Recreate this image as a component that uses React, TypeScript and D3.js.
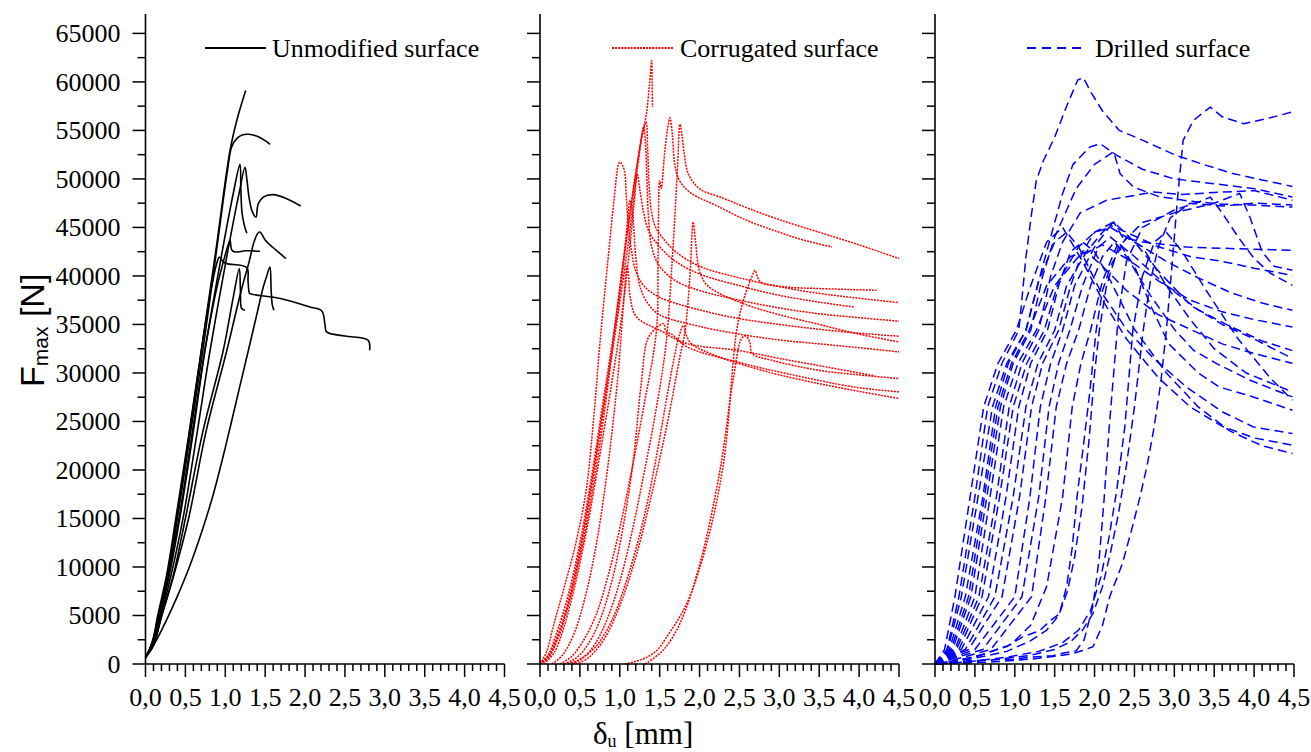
import React from 'react';
import * as d3 from 'd3';

type Pt = [number, number];

// ---------- tick values / labels ----------
const xMajorTicks = [0, 0.5, 1, 1.5, 2, 2.5, 3, 3.5, 4, 4.5];
const xTickLabels = ['0,0', '0,5', '1,0', '1,5', '2,0', '2,5', '3,0', '3,5', '4,0', '4,5'];
const xMinorTicks = [0.1, 0.2, 0.3, 0.4, 0.6, 0.7, 0.8, 0.9, 1.1, 1.2, 1.3, 1.4, 1.6, 1.7, 1.8, 1.9, 2.1, 2.2, 2.3, 2.4, 2.6, 2.7, 2.8, 2.9, 3.1, 3.2, 3.3, 3.4, 3.6, 3.7, 3.8, 3.9, 4.1, 4.2, 4.3, 4.4];
const yMajorTicks = [0, 5000, 10000, 15000, 20000, 25000, 30000, 35000, 40000, 45000, 50000, 55000, 60000, 65000];
const yMinorTicks = [2500, 7500, 12500, 17500, 22500, 27500, 32500, 37500, 42500, 47500, 52500, 57500, 62500];

const legendLabels = ['Unmodified surface', 'Corrugated surface', 'Drilled surface'];

// ---------- Unmodified surface (black) ----------
const u1: Pt[] = [[0,600],[0.08,2200],[0.16,4870],[0.28,9500],[0.39,15000],[0.55,23800],[0.70,32340],[0.88,42500],[1.06,52940],[1.15,56200],[1.256,59120]];
const u2: Pt[] = [[0,600],[0.08,2100],[0.17,4870],[0.29,9500],[0.40,15000],[0.56,23600],[0.72,32340],[0.88,42000],[1.03,51000],[1.08,53300],[1.15,54200],[1.22,54550],[1.29,54600],[1.40,54400],[1.50,53950],[1.56,53560]];
const u3: Pt[] = [[0,700],[0.09,2100],[0.18,4870],[0.30,9200],[0.43,15000],[0.60,24000],[0.745,32340],[0.95,42000],[1.10,48500],[1.184,51500],[1.195,49000],[1.21,46500],[1.24,45200],[1.27,44400]];
const u4: Pt[] = [[0,700],[0.10,2000],[0.19,4870],[0.33,9500],[0.47,15000],[0.64,23500],[0.81,32340],[1.03,42500],[1.18,48800],[1.247,51200],[1.27,50000],[1.30,48000],[1.34,46600],[1.385,46070],[1.40,46900],[1.414,47450],[1.476,48130],[1.60,48380],[1.77,47960],[1.945,47210]];
const u5: Pt[] = [[0,700],[0.10,1900],[0.20,4870],[0.36,9300],[0.54,15000],[0.76,24000],[1.02,32340],[1.20,38500],[1.30,41500],[1.36,43500],[1.41,44430],[1.435,44530],[1.50,43700],[1.56,43200],[1.64,42640],[1.76,41790]];
const u6: Pt[] = [[0,700],[0.09,2100],[0.17,4870],[0.29,9400],[0.42,15000],[0.58,23500],[0.745,32340],[0.90,39000],[1.0,42200],[1.04,43300],[1.06,43670],[1.08,42700],[1.12,42470],[1.25,42600],[1.35,42580],[1.435,42540]];
const u7: Pt[] = [[0,700],[0.08,2000],[0.15,4870],[0.27,9400],[0.38,15000],[0.54,23500],[0.70,32340],[0.82,38500],[0.90,41500],[0.925,41950],[0.975,41440],[1.02,41270],[1.27,40860],[1.285,39500],[1.30,38290],[1.31,38180],[1.69,37670],[2.06,36800],[2.21,36390],[2.25,35000],[2.27,34230],[2.5,33800],[2.79,33370],[2.81,32340]];
const u8: Pt[] = [[0,700],[0.10,2000],[0.20,4870],[0.35,9200],[0.50,15000],[0.72,24000],[0.975,32340],[1.10,37800],[1.176,40760],[1.19,38500],[1.205,36640],[1.247,36460]];
const u9: Pt[] = [[0,700],[0.12,2200],[0.25,4300],[0.40,7000],[0.55,10000],[0.70,13500],[0.85,17500],[1.0,22300],[1.15,27500],[1.29,32340],[1.40,36200],[1.476,38860],[1.52,40000],[1.56,40920],[1.575,38500],[1.59,37000],[1.61,36460]];
const unmodifiedCurves = [u1, u2, u3, u4, u5, u6, u7, u8, u9];

// ---------- Corrugated surface (red) ----------
const r1: Pt[] = [[0,0],[0.08,1200],[0.17,4000],[0.30,7800],[0.45,12500],[0.58,18000],[0.68,26000],[0.75,33000],[0.85,41500],[0.93,48000],[0.98,51400],[1.0,51740],[1.04,51300],[1.065,50500],[1.08,48500],[1.10,46000],[1.14,43000],[1.20,40500],[1.30,39000],[1.50,37800],[2.0,36500],[2.5,35600],[3.0,35000],[3.5,34500],[4.0,34100],[4.5,33780]];
const r2: Pt[] = [[0,0],[0.10,700],[0.20,2500],[0.35,6000],[0.50,11000],[0.65,17500],[0.80,25500],[0.92,33500],[1.05,42000],[1.18,49500],[1.28,54500],[1.33,56500],[1.37,59500],[1.40,62200],[1.405,60000],[1.41,57400]];
const r3: Pt[] = [[0,0],[0.10,900],[0.20,3000],[0.35,7000],[0.50,12500],[0.65,19500],[0.80,27500],[0.94,35000],[1.08,43500],[1.20,50500],[1.28,54500],[1.33,55860],[1.35,53000],[1.37,49000],[1.40,46500],[1.45,45000],[1.55,43800],[1.70,42500],[2.0,41000],[2.5,39800],[3.0,38900],[3.5,38200],[4.0,37700],[4.5,37250]];
const r4: Pt[] = [[0.25,0],[0.40,800],[0.55,2500],[0.70,5000],[0.85,9000],[1.0,14000],[1.15,20000],[1.30,26500],[1.46,34400],[1.48,42000],[1.50,49850],[1.52,49000],[1.56,52500],[1.60,55200],[1.63,56300],[1.66,54500],[1.69,51500],[1.75,49800],[1.90,48500],[2.2,47300],[2.6,45700],[3.0,44500],[3.3,43700],[3.66,42990]];
const r5: Pt[] = [[0.40,0],[0.55,700],[0.70,2200],[0.85,4800],[1.0,8500],[1.15,13500],[1.30,19500],[1.45,26000],[1.58,33000],[1.66,42000],[1.72,50500],[1.755,55620],[1.78,54500],[1.81,52500],[1.86,50500],[2.0,49000],[2.3,48000],[2.6,47000],[3.0,45800],[3.5,44500],[4.0,43200],[4.5,41790]];
const r6: Pt[] = [[0.45,0],[0.60,600],[0.80,2500],[1.0,6000],[1.2,11000],[1.4,17500],[1.6,25000],[1.75,31500],[1.82,34400],[1.88,40000],[1.92,45560],[1.95,43500],[2.0,40500],[2.1,39000],[2.5,37300],[3.0,36000],[3.5,35000],[4.0,34000],[4.5,33200]];
const r7: Pt[] = [[1.065,0],[1.29,515],[1.46,1370],[1.59,2810],[1.84,6250],[2.09,12430],[2.30,20670],[2.465,34400],[2.55,37500],[2.65,39800],[2.695,40580],[2.73,39800],[2.78,39300],[3.09,38860],[3.5,38700],[3.9,38600],[4.22,38520]];
const r8: Pt[] = [[1.32,0],[1.546,1440],[1.755,4190],[2.005,10370],[2.256,19980],[2.42,29250],[2.53,33600],[2.58,33800],[2.63,33200],[2.66,32000],[2.91,31300],[3.49,30280],[4.0,29800],[4.5,29430]];
const r9: Pt[] = [[0.30,0],[0.45,600],[0.60,2000],[0.75,4500],[0.90,8500],[1.05,14500],[1.17,21000],[1.27,29000],[1.35,33500],[1.45,34600],[1.52,35000],[1.55,35090],[1.58,34300],[1.65,34000],[1.84,32700],[2.47,31140],[3.09,29940],[3.93,28560],[4.5,28050]];
const r10: Pt[] = [[0.35,0],[0.50,500],[0.70,1800],[0.90,4500],[1.10,9000],[1.30,15000],[1.45,21000],[1.58,27000],[1.68,31500],[1.75,34000],[1.80,34900],[1.83,34000],[1.90,33000],[2.2,31800],[2.6,30700],[3.0,29800],[3.5,28900],[4.0,28100],[4.5,27370]];
const r11: Pt[] = [[0,0],[0.12,1000],[0.25,3500],[0.40,8000],[0.55,14000],[0.70,21500],[0.85,29500],[0.96,35500],[1.05,41500],[1.10,46000],[1.13,47800],[1.16,46500],[1.20,42000],[1.25,39000],[1.35,37200],[1.5,36000],[2.0,34800],[2.5,34000],[3.0,33400],[3.5,33000],[4.0,32600],[4.5,32170]];
const r12: Pt[] = [[0.05,0],[0.18,1200],[0.30,3800],[0.45,8500],[0.60,14500],[0.75,21500],[0.90,29000],[1.0,34400],[1.10,41000],[1.18,47500],[1.22,50500],[1.25,49000],[1.30,46500],[1.37,44500],[1.5,43000],[1.7,41500],[2.0,40200],[2.5,39000],[3.0,38000],[3.5,37300],[3.93,36800]];
const r13: Pt[] = [[0,0],[0.10,600],[0.22,2500],[0.36,6200],[0.50,11500],[0.65,18500],[0.80,26500],[0.95,34500],[1.10,43000],[1.22,51000],[1.30,55400],[1.32,54000],[1.34,50000],[1.36,46000],[1.40,43000],[1.5,41000],[1.7,39500],[2.0,38500],[2.5,37500],[3.0,36700],[3.5,36100],[4.0,35700],[4.5,35330]];
const r14: Pt[] = [[0.15,0],[0.28,900],[0.42,3000],[0.57,7000],[0.72,13000],[0.86,21000],[0.98,30000],[1.05,37500],[1.09,41000],[1.11,40000],[1.13,37830],[1.21,35770],[1.5,34400],[1.84,33030],[2.47,32340],[3.0,31500],[3.6,30600],[4.2,29700]];
const corrugatedCurves = [r1, r2, r3, r4, r5, r6, r7, r8, r9, r10, r11, r12, r13, r14];

// ---------- Drilled surface (blue) ----------
const b1: Pt[] = [[0,0],[0.15,1500],[0.30,6930],[0.50,17230],[0.66,26500],[0.84,31000],[1.05,34400],[1.08,36800],[1.14,41950],[1.21,46400],[1.27,49850],[1.36,51900],[1.5,54300],[1.65,57500],[1.79,60200],[1.86,60430],[1.95,59000],[2.1,57000],[2.31,55000],[2.6,54000],[3.02,52430],[3.4,51400],[3.73,50570],[4.1,49900],[4.48,49230]];
const b2: Pt[] = [[0,0],[0.4,100],[0.8,250],[1.2,500],[1.5,800],[1.69,1000],[1.85,1400],[1.98,1780],[2.1,4000],[2.19,6930],[2.35,10370],[2.47,14000],[2.57,17230],[2.66,20500],[2.74,24100],[2.83,29000],[2.9,34400],[2.97,41000],[3.04,48000],[3.11,53970],[3.24,56030],[3.45,57400],[3.6,56400],[3.87,55690],[4.2,56300],[4.48,56900]];
const b3: Pt[] = [[0,0],[0.18,1500],[0.38,6930],[0.60,17230],[0.76,26500],[0.92,31000],[1.14,34400],[1.3,39500],[1.45,44000],[1.6,48500],[1.73,51500],[1.94,53290],[2.07,53630],[2.28,52430],[2.6,51000],[3.0,50000],[3.5,49500],[4.0,49000],[4.48,48130]];
const b4: Pt[] = [[0,0],[0.22,1500],[0.45,6930],[0.65,17230],[0.82,26500],[0.98,31000],[1.2,34400],[1.35,40000],[1.5,44000],[1.77,49000],[2.0,51500],[2.24,52800],[2.32,50540],[2.49,49160],[2.8,48200],[3.2,47700],[3.6,47400],[4.0,47300],[4.48,47100]];
const b5: Pt[] = [[0,0],[0.27,1500],[0.55,6930],[0.77,17230],[0.93,26500],[1.09,31000],[1.30,34400],[1.45,40000],[1.6,43500],[1.82,46500],[2.15,47800],[2.5,48300],[2.74,48650],[3.1,48400],[3.5,48600],[4.0,48800],[4.48,47800]];
const b6: Pt[] = [[0,0],[0.44,350],[0.98,500],[1.2,700],[1.48,860],[1.6,1100],[1.77,1370],[1.87,2500],[1.98,6000],[2.06,11000],[2.12,17000],[2.18,24000],[2.25,31000],[2.3,36000],[2.4,41500],[2.6,45000],[3.0,46800],[3.3,47600],[3.45,48130],[3.6,46500],[3.8,44000],[4.0,41800],[4.2,40300],[4.48,39030]];
const b7: Pt[] = [[0,0],[0.5,600],[0.9,1300],[1.2,2400],[1.4,3500],[1.55,5000],[1.66,7500],[1.75,11000],[1.84,16000],[1.93,23000],[2.0,30000],[2.06,34400],[2.15,39000],[2.3,43000],[2.6,45500],[3.0,46500],[3.5,47500],[3.82,48500],[3.95,46000],[4.1,42500],[4.25,41000],[4.48,40580]];
const b8: Pt[] = [[0,0],[0.38,1500],[0.75,6930],[0.98,17230],[1.14,26500],[1.29,31000],[1.5,34400],[1.65,39000],[1.9,42500],[2.1,44500],[2.24,45560],[2.35,44000],[2.6,43500],[3.15,42980],[3.8,42800],[4.48,42640]];
const b9: Pt[] = [[0,0],[0.5,1500],[1.0,6930],[1.19,17230],[1.32,26500],[1.45,31000],[1.60,34400],[1.75,39000],[2.0,43000],[2.2,45200],[2.4,44500],[2.8,43000],[3.2,42000],[3.6,41500],[4.0,40800],[4.48,40060]];
const b10: Pt[] = [[0,0],[0.3,1500],[0.59,6930],[0.81,17230],[0.98,26500],[1.15,31000],[1.37,34400],[1.55,39500],[1.8,43000],[2.0,44500],[2.2,45000],[2.5,43500],[2.9,41500],[3.3,39800],[3.7,38300],[4.1,37200],[4.48,36460]];
const b11: Pt[] = [[0,0],[0.25,1500],[0.5,6930],[0.69,17230],[0.86,26500],[1.04,31000],[1.27,34400],[1.5,39000],[1.8,42000],[2.1,43200],[2.4,41800],[2.8,39500],[3.2,37500],[3.6,36300],[4.0,35500],[4.48,34740]];
const b12: Pt[] = [[0,0],[0.6,1500],[1.09,6930],[1.30,17230],[1.43,26500],[1.55,31000],[1.69,34400],[1.85,39000],[2.05,43000],[2.2,44000],[2.5,42000],[2.9,39000],[3.3,36500],[3.7,34800],[4.1,33300],[4.48,32300]];
const b13: Pt[] = [[0,0],[0.2,1500],[0.42,6930],[0.62,17230],[0.79,26500],[0.96,31000],[1.18,34400],[1.4,39000],[1.7,42000],[1.9,42500],[2.1,41000],[2.4,38500],[2.8,36000],[3.2,34500],[3.6,33000],[4.0,32000],[4.48,31000]];
const b15: Pt[] = [[0,0],[0.16,1500],[0.33,6930],[0.54,17230],[0.72,26500],[0.90,31000],[1.14,34400],[1.3,39500],[1.5,43500],[1.65,44500],[1.8,43000],[2.07,38500],[2.4,34500],[2.74,31500],[3.16,28500],[3.6,26000],[3.99,24440],[4.48,23750]];
const b16: Pt[] = [[0,0],[0.12,1500],[0.25,6930],[0.44,17230],[0.61,26500],[0.79,31000],[1.02,34400],[1.2,39000],[1.4,43500],[1.6,45000],[1.85,41500],[2.1,37500],[2.4,33500],[2.8,29500],[3.2,26500],[3.6,24500],[4.0,23300],[4.48,22560]];
const b17: Pt[] = [[0,0],[0.33,1500],[0.67,6930],[0.89,17230],[1.05,26500],[1.2,31000],[1.41,34400],[1.55,39000],[1.7,42500],[1.85,43500],[2.0,42500],[2.2,39500],[2.5,34500],[2.9,30000],[3.3,26500],[3.7,24000],[4.1,22500],[4.48,21700]];
const b18: Pt[] = [[0.05,0],[0.7,1500],[1.21,6930],[1.39,17230],[1.52,26500],[1.65,31000],[1.80,34400],[1.95,39000],[2.1,42000],[2.25,43500],[2.4,42000],[2.7,38000],[3.0,34500],[3.24,32340],[3.53,30960],[3.95,29250],[4.48,27530]];
const b19: Pt[] = [[0,0],[0.5,700],[0.95,2000],[1.2,4000],[1.4,8000],[1.6,17230],[1.72,26500],[1.83,31000],[1.95,34400],[2.1,39500],[2.3,43500],[2.5,41000],[2.7,37000],[2.93,33000],[3.3,30000],[3.56,28560],[3.99,27530],[4.48,26160]];
const b20: Pt[] = [[0,0],[0.3,400],[0.6,1000],[0.9,1800],[1.1,2800],[1.31,3430],[1.45,4500],[1.56,5150],[1.65,8000],[1.72,12000],[1.78,17230],[1.86,22500],[1.94,28000],[2.02,34400],[2.1,38500],[2.2,41000],[2.4,44000],[2.6,43000],[2.9,39000],[3.2,35500],[3.5,32500],[3.9,30000],[4.48,28050]];
const b21: Pt[] = [[0.05,0],[0.5,300],[0.9,700],[1.3,1300],[1.6,2200],[1.8,3500],[1.95,5500],[2.08,9000],[2.18,13000],[2.28,18000],[2.38,24500],[2.48,34400],[2.6,40000],[2.75,43500],[2.9,44500],[3.1,42500],[3.4,38500],[3.8,33500],[4.2,29500],[4.48,27190]];
const b22: Pt[] = [[0,0],[0.4,200],[0.8,500],[1.2,900],[1.5,1500],[1.7,2300],[1.85,3500],[1.98,5200],[2.1,8000],[2.2,11500],[2.3,15500],[2.4,20500],[2.5,26500],[2.61,34400],[2.7,39500],[2.8,43000],[2.95,46000],[3.2,47500],[3.6,47200],[4.0,47500],[4.48,47300]];
const b23: Pt[] = [[0,0],[0.42,1500],[0.84,6930],[1.06,17230],[1.21,26500],[1.35,31000],[1.55,34400],[1.7,39000],[1.85,42500],[2.0,44500],[2.24,45560],[2.5,43500],[2.8,40500],[3.2,37000],[3.6,35000],[4.0,33500],[4.48,31500]];
const drilledCurves = [b1, b2, b3, b4, b5, b6, b7, b8, b9, b10, b11, b12, b13, b15, b16, b17, b18, b19, b20, b21, b22, b23];

// ---------- layout ----------
const W = 1311;
const H = 752;
const panelLefts = [145.5, 540, 935];
const panelWidth = 359;
const yBottom = 664;
const yTop = 14;

const SERIF = '"Liberation Serif", "Times New Roman", serif';
const SANS = '"Liberation Sans", Arial, sans-serif';

const yScale = d3.scaleLinear().domain([0, 67000]).range([yBottom, yTop]);

type PanelStyle = { color: string; width: number; dash?: string; curve: d3.CurveFactory };

const styles: PanelStyle[] = [
  { color: '#000000', width: 1.6, curve: d3.curveCatmullRom.alpha(0.5) },
  { color: '#ff0000', width: 1.5, dash: '2 1.1', curve: d3.curveCatmullRom.alpha(0.5) },
  { color: '#0000ff', width: 1.5, dash: '9 5', curve: d3.curveLinear },
];

const datasets = [unmodifiedCurves, corrugatedCurves, drilledCurves];
const legendLines: [number, number][] = [[205, 266], [612, 673], [1027, 1085]];
const legendTextX = [272, 680, 1095];

function Panel({ idx }: { idx: number }) {
  const x0 = panelLefts[idx];
  const xScale = d3.scaleLinear().domain([0, 4.5]).range([x0, x0 + panelWidth]);
  const st = styles[idx];
  const line = d3
    .line<Pt>()
    .x((p) => xScale(p[0]))
    .y((p) => yScale(p[1]))
    .curve(st.curve);
  return (
    <g>
      {datasets[idx].map((c, i) => (
        <path
          key={i}
          d={line(c) || ''}
          fill="none"
          stroke={st.color}
          strokeWidth={st.width}
          strokeDasharray={st.dash}
          strokeLinejoin="round"
        />
      ))}
      <line x1={x0} x2={x0} y1={yBottom} y2={yTop} stroke="#000" strokeWidth={1.6} />
      <line x1={x0} x2={x0 + panelWidth} y1={yBottom} y2={yBottom} stroke="#000" strokeWidth={1.6} />
      {yMajorTicks.map((v) => (
        <line key={'ym' + v} x1={x0 - 13} x2={x0} y1={yScale(v)} y2={yScale(v)} stroke="#000" strokeWidth={1.5} />
      ))}
      {yMinorTicks.map((v) => (
        <line key={'yn' + v} x1={x0 - 8} x2={x0} y1={yScale(v)} y2={yScale(v)} stroke="#000" strokeWidth={1.5} />
      ))}
      {xMajorTicks.map((v) => (
        <line key={'xm' + v} x1={xScale(v)} x2={xScale(v)} y1={yBottom} y2={yBottom + 13} stroke="#000" strokeWidth={1.5} />
      ))}
      {xMinorTicks.map((v) => (
        <line key={'xn' + v} x1={xScale(v)} x2={xScale(v)} y1={yBottom} y2={yBottom + 7} stroke="#000" strokeWidth={1.5} />
      ))}
      {xMajorTicks.map((v, i) => (
        <text key={'xl' + v} x={xScale(v)} y={706} textAnchor="middle" fontFamily={SERIF} fontSize={26} fill="#000">
          {xTickLabels[i]}
        </text>
      ))}
      {idx === 0 &&
        yMajorTicks.map((v) => (
          <text key={'yl' + v} x={x0 - 25} y={yScale(v) + 9} textAnchor="end" fontFamily={SERIF} fontSize={26} fill="#000">
            {String(v)}
          </text>
        ))}
      <line
        x1={legendLines[idx][0]}
        x2={legendLines[idx][1]}
        y1={48}
        y2={48}
        stroke={st.color}
        strokeWidth={st.width + 0.3}
        strokeDasharray={idx === 2 ? '9 6' : st.dash}
      />
      <text x={legendTextX[idx]} y={57} fontFamily={SERIF} fontSize={26} fill="#000">
        {legendLabels[idx]}
      </text>
    </g>
  );
}

export default function App() {
  return (
    <svg
      width={W}
      height={H}
      viewBox={`0 0 ${W} ${H}`}
      style={{ position: 'absolute', left: 0, top: 0, background: '#fff' }}
    >
      <rect x={0} y={0} width={W} height={H} fill="#fff" />
      {[0, 1, 2].map((i) => (
        <Panel key={i} idx={i} />
      ))}
      <text transform="translate(44,387) rotate(-90)" fontFamily={SANS} fontSize={34} fill="#000">
        F
        <tspan fontSize={21} dy={4}>max</tspan>
        <tspan dy={-4}> [N]</tspan>
      </text>
      <text x={593} y={744} fontFamily={SERIF} fontSize={31} fill="#000">
        δ
        <tspan fontSize={18} dy={3}>u</tspan>
        <tspan dy={-3}> [mm]</tspan>
      </text>
    </svg>
  );
}
